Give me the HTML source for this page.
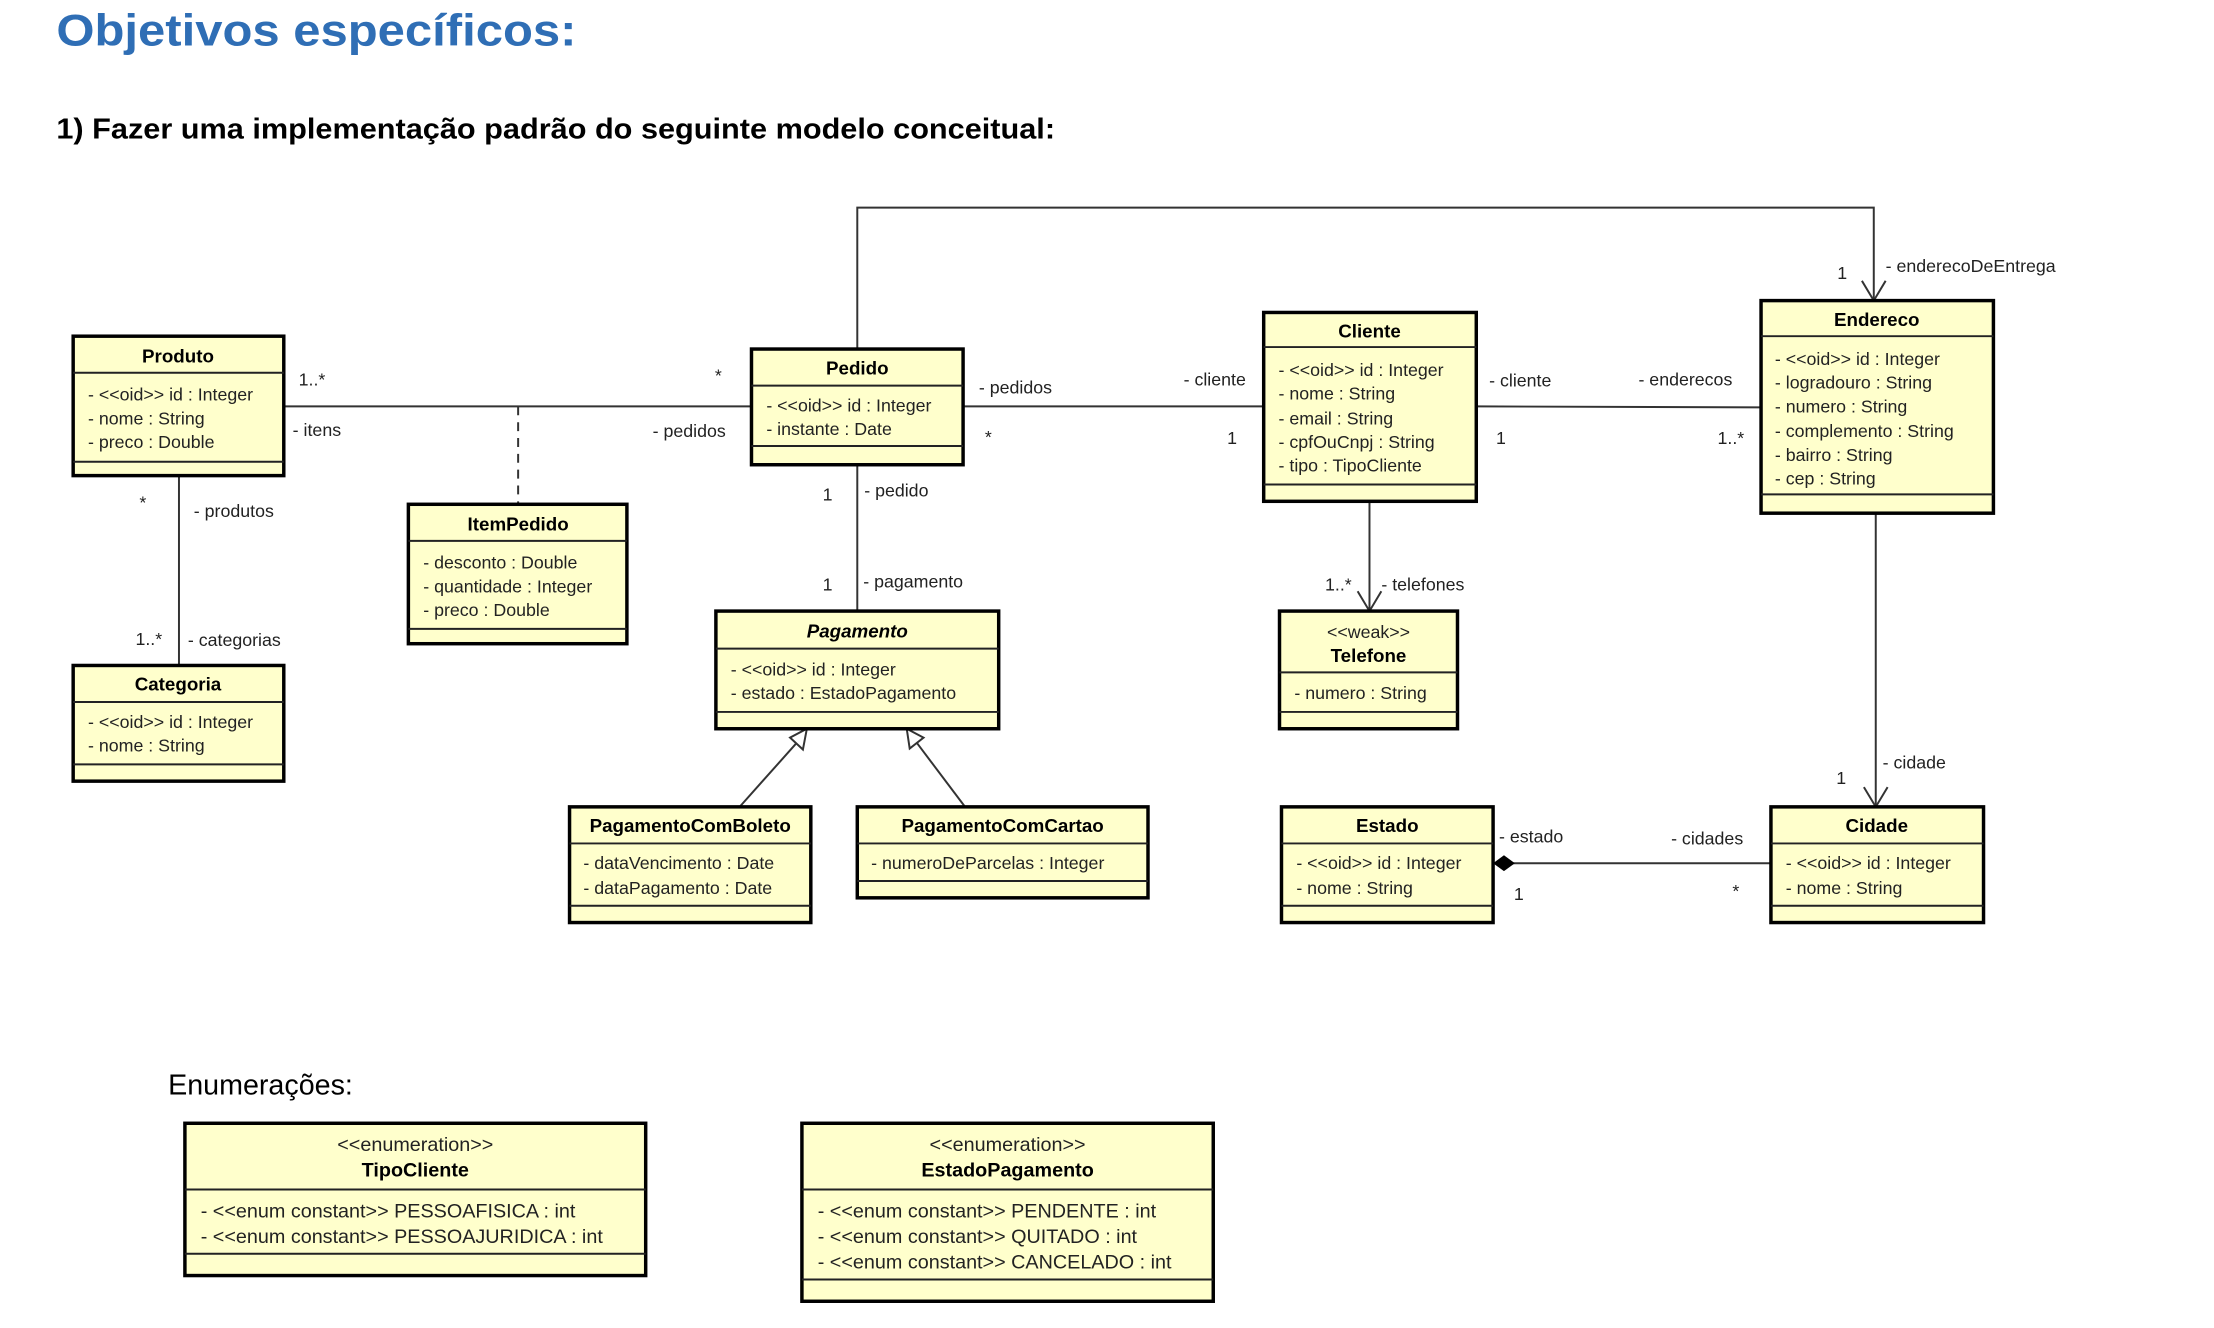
<!DOCTYPE html>
<html><head><meta charset="utf-8">
<style>
html,body{margin:0;padding:0;background:#fff;}
svg{display:block;}
text{font-family:"Liberation Sans",Arial,sans-serif;fill:#222;}
.t{font-size:18px;dominant-baseline:central;}
.b{font-size:19px;font-weight:bold;dominant-baseline:central;text-anchor:middle;fill:#000;}
.s{font-size:18px;dominant-baseline:central;text-anchor:middle;}
.e{font-size:20px;dominant-baseline:central;}
.box{fill:#ffffcc;stroke:#000;stroke-width:3.5;}
.ln{stroke:#222;stroke-width:2;fill:none;}
.l{stroke:#333;stroke-width:2;fill:none;}
</style></head><body>
<svg width="2214" height="1328" viewBox="0 0 2214 1328" xmlns="http://www.w3.org/2000/svg">
<g transform="scale(0.9888)">
<text x="57" y="46" textLength="526" lengthAdjust="spacingAndGlyphs" style="font-size:45px;font-weight:900;fill:#2f6eb5;">Objetivos específicos:</text>
<text x="57" y="140" textLength="1010" lengthAdjust="spacingAndGlyphs" style="font-size:29px;font-weight:bold;fill:#000">1) Fazer uma implementação padrão do seguinte modelo conceitual:</text>

<!-- connectors -->
<path class="l" d="M287 411 H760"/>
<path class="l" d="M524 411 V510" stroke-dasharray="9,7"/>
<path class="l" d="M974 411 H1278"/>
<path class="l" d="M1493 411 L1781 412"/>
<path class="l" d="M867 353 V210 H1895 V304"/>
<path class="l" d="M1883 284 L1895 304 L1907 284"/>
<path class="l" d="M181 481 V673"/>
<path class="l" d="M867 470 V618"/>
<path class="l" d="M1385 507 V618"/>
<path class="l" d="M1373 598 L1385 618 L1397 598"/>
<path class="l" d="M1897 519 V816"/>
<path class="l" d="M1885 796 L1897 816 L1909 796"/>
<path class="l" d="M1510 873 H1791"/>
<polygon points="1510,873 1521,865 1532,873 1521,881" fill="#000"/>
<path class="l" d="M748 816 L806 751"/>
<polygon points="816,737 812,758 799,746" fill="#fff" stroke="#333" stroke-width="2"/>
<path class="l" d="M976 816 L927 751"/>
<polygon points="917,737 934,746 920,757" fill="#fff" stroke="#333" stroke-width="2"/>

<!-- Produto -->
<rect class="box" x="74" y="340" width="213" height="141"/>
<path class="ln" d="M74 377 H287 M74 467 H287"/>
<text class="b" x="180" y="360">Produto</text>
<text class="t" x="89" y="399">- &lt;&lt;oid&gt;&gt; id : Integer</text>
<text class="t" x="89" y="423">- nome : String</text>
<text class="t" x="89" y="447">- preco : Double</text>

<!-- Pedido -->
<rect class="box" x="760" y="353" width="214" height="117"/>
<path class="ln" d="M760 390 H974 M760 451 H974"/>
<text class="b" x="867" y="372">Pedido</text>
<text class="t" x="775" y="410">- &lt;&lt;oid&gt;&gt; id : Integer</text>
<text class="t" x="775" y="434">- instante : Date</text>

<!-- Cliente -->
<rect class="box" x="1278" y="316" width="215" height="191"/>
<path class="ln" d="M1278 351 H1493 M1278 490 H1493"/>
<text class="b" x="1385" y="335">Cliente</text>
<text class="t" x="1293" y="374">- &lt;&lt;oid&gt;&gt; id : Integer</text>
<text class="t" x="1293" y="398">- nome : String</text>
<text class="t" x="1293" y="423">- email : String</text>
<text class="t" x="1293" y="447">- cpfOuCnpj : String</text>
<text class="t" x="1293" y="471">- tipo : TipoCliente</text>

<!-- Endereco -->
<rect class="box" x="1781" y="304" width="235" height="215"/>
<path class="ln" d="M1781 340 H2016 M1781 500 H2016"/>
<text class="b" x="1898" y="323">Endereco</text>
<text class="t" x="1795" y="363">- &lt;&lt;oid&gt;&gt; id : Integer</text>
<text class="t" x="1795" y="387">- logradouro : String</text>
<text class="t" x="1795" y="411">- numero : String</text>
<text class="t" x="1795" y="436">- complemento : String</text>
<text class="t" x="1795" y="460">- bairro : String</text>
<text class="t" x="1795" y="484">- cep : String</text>

<!-- ItemPedido -->
<rect class="box" x="413" y="510" width="221" height="141"/>
<path class="ln" d="M413 547 H634 M413 636 H634"/>
<text class="b" x="524" y="530">ItemPedido</text>
<text class="t" x="428" y="569">- desconto : Double</text>
<text class="t" x="428" y="593">- quantidade : Integer</text>
<text class="t" x="428" y="617">- preco : Double</text>

<!-- Categoria -->
<rect class="box" x="74" y="673" width="213" height="117"/>
<path class="ln" d="M74 710 H287 M74 773 H287"/>
<text class="b" x="180" y="692">Categoria</text>
<text class="t" x="89" y="730">- &lt;&lt;oid&gt;&gt; id : Integer</text>
<text class="t" x="89" y="754">- nome : String</text>

<!-- Pagamento -->
<rect class="box" x="724" y="618" width="286" height="119"/>
<path class="ln" d="M724 656 H1010 M724 720 H1010"/>
<text class="b" x="867" y="638" style="font-style:italic">Pagamento</text>
<text class="t" x="739" y="677">- &lt;&lt;oid&gt;&gt; id : Integer</text>
<text class="t" x="739" y="701">- estado : EstadoPagamento</text>

<!-- Telefone -->
<rect class="box" x="1294" y="618" width="180" height="119"/>
<path class="ln" d="M1294 680 H1474 M1294 720 H1474"/>
<text class="s" x="1384" y="639">&lt;&lt;weak&gt;&gt;</text>
<text class="b" x="1384" y="663">Telefone</text>
<text class="t" x="1309" y="701">- numero : String</text>

<!-- PagamentoComBoleto -->
<rect class="box" x="576" y="816" width="244" height="117"/>
<path class="ln" d="M576 853 H820 M576 916 H820"/>
<text class="b" x="698" y="835">PagamentoComBoleto</text>
<text class="t" x="590" y="873">- dataVencimento : Date</text>
<text class="t" x="590" y="898">- dataPagamento : Date</text>

<!-- PagamentoComCartao -->
<rect class="box" x="867" y="816" width="294" height="92"/>
<path class="ln" d="M867 853 H1161 M867 891 H1161"/>
<text class="b" x="1014" y="835">PagamentoComCartao</text>
<text class="t" x="881" y="873">- numeroDeParcelas : Integer</text>

<!-- Estado -->
<rect class="box" x="1296" y="816" width="214" height="117"/>
<path class="ln" d="M1296 853 H1510 M1296 916 H1510"/>
<text class="b" x="1403" y="835">Estado</text>
<text class="t" x="1311" y="873">- &lt;&lt;oid&gt;&gt; id : Integer</text>
<text class="t" x="1311" y="898">- nome : String</text>

<!-- Cidade -->
<rect class="box" x="1791" y="816" width="215" height="117"/>
<path class="ln" d="M1791 853 H2006 M1791 916 H2006"/>
<text class="b" x="1898" y="835">Cidade</text>
<text class="t" x="1806" y="873">- &lt;&lt;oid&gt;&gt; id : Integer</text>
<text class="t" x="1806" y="898">- nome : String</text>

<!-- labels -->
<text class="t" x="302" y="384">1..*</text>
<text class="t" x="296" y="435">- itens</text>
<text class="t" x="723" y="380">*</text>
<text class="t" x="660" y="436">- pedidos</text>
<text class="t" x="990" y="392">- pedidos</text>
<text class="t" x="996" y="442">*</text>
<text class="t" x="1197" y="384">- cliente</text>
<text class="t" x="1241" y="443">1</text>
<text class="t" x="1506" y="385">- cliente</text>
<text class="t" x="1513" y="443">1</text>
<text class="t" x="1657" y="384">- enderecos</text>
<text class="t" x="1737" y="443">1..*</text>
<text class="t" x="1858" y="276">1</text>
<text class="t" x="1907" y="269">- enderecoDeEntrega</text>
<text class="t" x="141" y="508">*</text>
<text class="t" x="196" y="517">- produtos</text>
<text class="t" x="137" y="646">1..*</text>
<text class="t" x="190" y="647">- categorias</text>
<text class="t" x="832" y="500">1</text>
<text class="t" x="874" y="496">- pedido</text>
<text class="t" x="832" y="591">1</text>
<text class="t" x="873" y="588">- pagamento</text>
<text class="t" x="1340" y="591">1..*</text>
<text class="t" x="1397" y="591">- telefones</text>
<text class="t" x="1904" y="771">- cidade</text>
<text class="t" x="1857" y="787">1</text>
<text class="t" x="1516" y="846">- estado</text>
<text class="t" x="1531" y="904">1</text>
<text class="t" x="1690" y="848">- cidades</text>
<text class="t" x="1752" y="901">*</text>

<!-- Enumerations -->
<text x="170" y="1107" style="font-size:29px;fill:#000">Enumerações:</text>

<rect class="box" x="187" y="1136" width="466" height="154"/>
<path class="ln" d="M187 1203 H653 M187 1268 H653"/>
<text class="s" x="420" y="1158" style="font-size:20px">&lt;&lt;enumeration&gt;&gt;</text>
<text class="b" x="420" y="1184" style="font-size:20px">TipoCliente</text>
<text class="e" x="203" y="1225">- &lt;&lt;enum constant&gt;&gt; PESSOAFISICA : int</text>
<text class="e" x="203" y="1251">- &lt;&lt;enum constant&gt;&gt; PESSOAJURIDICA : int</text>

<rect class="box" x="811" y="1136" width="416" height="180"/>
<path class="ln" d="M811 1203 H1227 M811 1294 H1227"/>
<text class="s" x="1019" y="1158" style="font-size:20px">&lt;&lt;enumeration&gt;&gt;</text>
<text class="b" x="1019" y="1184" style="font-size:20px">EstadoPagamento</text>
<text class="e" x="827" y="1225">- &lt;&lt;enum constant&gt;&gt; PENDENTE : int</text>
<text class="e" x="827" y="1251">- &lt;&lt;enum constant&gt;&gt; QUITADO : int</text>
<text class="e" x="827" y="1277">- &lt;&lt;enum constant&gt;&gt; CANCELADO : int</text>
</g>
</svg>
</body></html>
